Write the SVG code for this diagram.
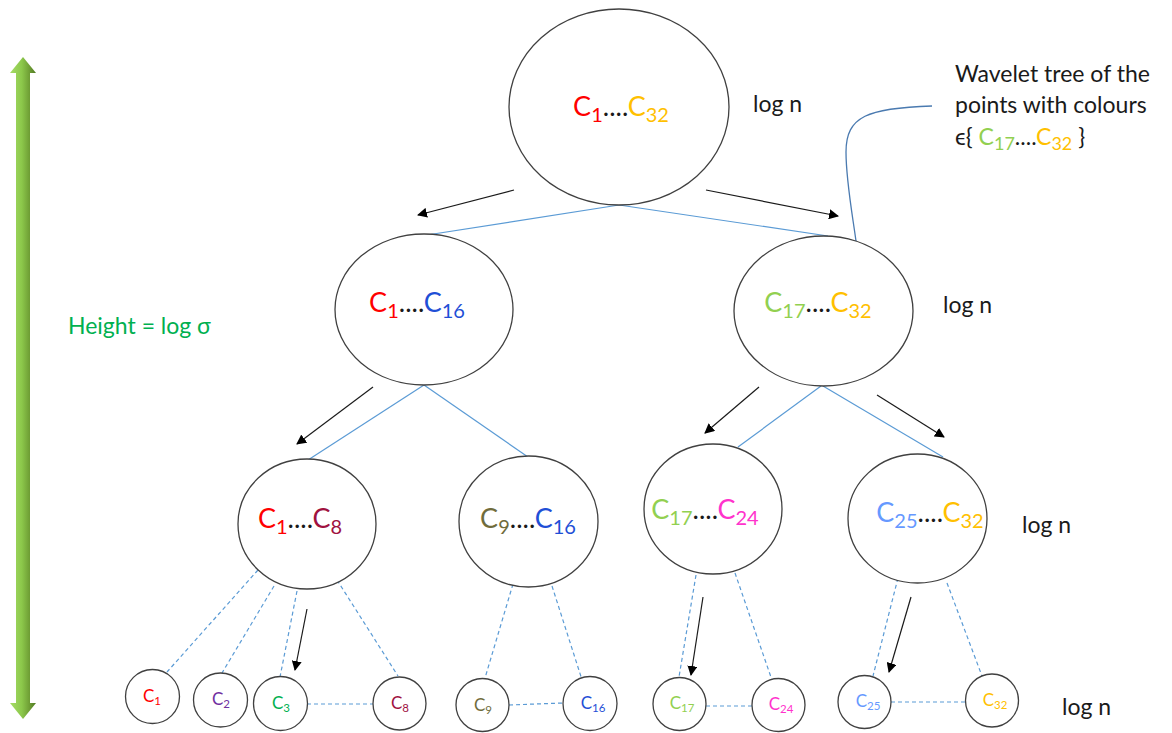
<svg xmlns="http://www.w3.org/2000/svg" width="1172" height="733" viewBox="0 0 1172 733">
  <style>
    .node { fill: #ffffff; stroke: #404040; stroke-width: 1.3; }
    .lbl { font-family: Lato, "Liberation Sans", sans-serif; font-size: 27px; text-anchor: middle; }
    .lbl-s { font-family: Lato, "Liberation Sans", sans-serif; font-size: 17px; text-anchor: middle; }
    .sub { font-size: 20px; }
    .sub-s { font-size: 11.5px; }
    .note { font-family: Lato, "Liberation Sans", sans-serif; font-size: 23px; fill: #1a1a1a; }
    .tree { stroke: #5b9bd5; stroke-width: 1.2; fill: none; }
    .dash { stroke: #5b9bd5; stroke-width: 1.2; stroke-dasharray: 4 3; fill: none; }
    .step { stroke: #1a1a1a; stroke-width: 1.2; fill: none; marker-end: url(#head); }
    .dots { fill: #1a1a1a; }
  </style>
  <defs>
    <marker id="head" viewBox="0 0 10 10" refX="9" refY="5" markerWidth="10" markerHeight="10" markerUnits="userSpaceOnUse" orient="auto">
      <path d="M0,0 L10,5 L0,10 z" fill="#000000"/>
    </marker>
    <linearGradient id="shaft" x1="0" y1="0" x2="1" y2="0">
      <stop offset="0" stop-color="#a6dc66"/>
      <stop offset="0.45" stop-color="#8cc84b"/>
      <stop offset="0.75" stop-color="#6f9e35"/>
      <stop offset="1" stop-color="#4f7a22"/>
    </linearGradient>
  </defs>

  <!-- height indicator -->
  <g id="height-axis">
    <path d="M23,57 L36,73 L30,73 L30,703 L36,703 L23,719 L10,703 L16,703 L16,73 L10,73 z" fill="url(#shaft)"/>
    <text x="68" y="334" font-family="Lato, 'Liberation Sans', sans-serif" font-size="23" fill="#00b050">Height = log σ</text>
  </g>

  <!-- connectors -->
  <g id="connectors">
    <!-- tree edges -->
    <line class="tree" x1="619" y1="205" x2="427" y2="235"/>
    <line class="tree" x1="619" y1="205" x2="828" y2="236"/>
    <line class="tree" x1="424" y1="385" x2="308" y2="460"/>
    <line class="tree" x1="424" y1="385" x2="528" y2="457"/>
    <line class="tree" x1="821" y1="386" x2="738" y2="447"/>
    <line class="tree" x1="823" y1="386" x2="943" y2="457"/>
    <!-- callout leader -->
    <path d="M856,241 C852,212 846,180 846,152 C846,116 868,108 932,106" fill="none" stroke="#4a7ab0" stroke-width="1.3"/>
    <!-- leaf edges -->
    <line class="dash" x1="258" y1="570" x2="167" y2="672"/>
    <line class="dash" x1="274" y1="586" x2="222" y2="673"/>
    <line class="dash" x1="297" y1="591" x2="280" y2="677"/>
    <line class="dash" x1="337" y1="580" x2="398" y2="676"/>
    <line class="dash" x1="307" y1="704" x2="373" y2="704"/>
    <line class="dash" x1="513" y1="584" x2="485" y2="678"/>
    <line class="dash" x1="552" y1="586" x2="584" y2="686"/>
    <line class="dash" x1="509" y1="705" x2="563" y2="703"/>
    <line class="dash" x1="696" y1="575" x2="679" y2="677"/>
    <line class="dash" x1="735" y1="573" x2="773" y2="683"/>
    <line class="dash" x1="706" y1="706" x2="752" y2="706"/>
    <line class="dash" x1="898" y1="578" x2="873" y2="676"/>
    <line class="dash" x1="947" y1="583" x2="982" y2="676"/>
    <line class="dash" x1="891" y1="702" x2="966" y2="702"/>
    <!-- traversal arrows -->
    <line class="step" x1="514" y1="190" x2="418" y2="215"/>
    <line class="step" x1="706" y1="190" x2="838" y2="216"/>
    <line class="step" x1="373" y1="387" x2="297" y2="444"/>
    <line class="step" x1="759" y1="387" x2="705" y2="433"/>
    <line class="step" x1="877" y1="395" x2="944" y2="437"/>
    <line class="step" x1="307" y1="609" x2="295" y2="670"/>
    <line class="step" x1="703" y1="597" x2="691" y2="675"/>
    <line class="step" x1="911" y1="597" x2="889" y2="672"/>
  </g>

  <!-- level 0 -->
  <g id="n-c1-c32">
    <ellipse class="node" cx="619" cy="107" rx="110" ry="98"/>
    <text class="lbl" x="621" y="116"><tspan fill="#ff0000">C</tspan><tspan class="sub" fill="#ff0000" dy="6">1</tspan><tspan class="dots" dy="-6">....</tspan><tspan fill="#ffc000">C</tspan><tspan class="sub" fill="#ffc000" dy="6">32</tspan></text>
  </g>
  <text class="note" x="753" y="112">log n</text>

  <!-- level 1 -->
  <g id="n-c1-c16">
    <ellipse class="node" cx="424" cy="309.5" rx="89" ry="75.5"/>
    <text class="lbl" x="417" y="312"><tspan fill="#ff0000">C</tspan><tspan class="sub" fill="#ff0000" dy="6">1</tspan><tspan class="dots" dy="-6">....</tspan><tspan fill="#1f4fd6">C</tspan><tspan class="sub" fill="#1f4fd6" dy="6">16</tspan></text>
  </g>
  <g id="n-c17-c32">
    <ellipse class="node" cx="823.5" cy="311" rx="89.5" ry="75"/>
    <text class="lbl" x="818" y="312"><tspan fill="#92d050">C</tspan><tspan class="sub" fill="#92d050" dy="6">17</tspan><tspan class="dots" dy="-6">....</tspan><tspan fill="#ffc000">C</tspan><tspan class="sub" fill="#ffc000" dy="6">32</tspan></text>
  </g>
  <text class="note" x="943" y="313">log n</text>

  <!-- level 2 -->
  <g id="n-c1-c8">
    <ellipse class="node" cx="307" cy="524" rx="69" ry="65"/>
    <text class="lbl" x="300" y="528"><tspan fill="#ff0000">C</tspan><tspan class="sub" fill="#ff0000" dy="6">1</tspan><tspan class="dots" dy="-6">....</tspan><tspan fill="#a0123f">C</tspan><tspan class="sub" fill="#a0123f" dy="6">8</tspan></text>
  </g>
  <g id="n-c9-c16">
    <ellipse class="node" cx="528.5" cy="521.5" rx="69.5" ry="65.5"/>
    <text class="lbl" x="528" y="528"><tspan fill="#706c3c">C</tspan><tspan class="sub" fill="#706c3c" dy="6">9</tspan><tspan class="dots" dy="-6">....</tspan><tspan fill="#1f4fd6">C</tspan><tspan class="sub" fill="#1f4fd6" dy="6">16</tspan></text>
  </g>
  <g id="n-c17-c24">
    <ellipse class="node" cx="713" cy="509" rx="69" ry="65"/>
    <text class="lbl" x="705" y="519"><tspan fill="#92d050">C</tspan><tspan class="sub" fill="#92d050" dy="6">17</tspan><tspan class="dots" dy="-6">....</tspan><tspan fill="#ff33cc">C</tspan><tspan class="sub" fill="#ff33cc" dy="6">24</tspan></text>
  </g>
  <g id="n-c25-c32">
    <ellipse class="node" cx="917.5" cy="518.5" rx="69.5" ry="64.5"/>
    <text class="lbl" x="930" y="522"><tspan fill="#6699ff">C</tspan><tspan class="sub" fill="#6699ff" dy="6">25</tspan><tspan class="dots" dy="-6">....</tspan><tspan fill="#ffc000">C</tspan><tspan class="sub" fill="#ffc000" dy="6">32</tspan></text>
  </g>
  <text class="note" x="1022" y="533">log n</text>

  <!-- leaves -->
  <g id="leaf-c1">
    <circle class="node" cx="152.5" cy="696.5" r="27"/>
    <text class="lbl-s" x="152" y="702" fill="#ff0000">C<tspan class="sub-s" dy="3">1</tspan></text>
  </g>
  <g id="leaf-c2">
    <circle class="node" cx="220.5" cy="700" r="27"/>
    <text class="lbl-s" x="221" y="705" fill="#7030a0">C<tspan class="sub-s" dy="3">2</tspan></text>
  </g>
  <g id="leaf-c3">
    <circle class="node" cx="280.5" cy="703.5" r="27"/>
    <text class="lbl-s" x="281" y="709" fill="#00b050">C<tspan class="sub-s" dy="3">3</tspan></text>
  </g>
  <g id="leaf-c8">
    <circle class="node" cx="399.5" cy="703.5" r="26.5"/>
    <text class="lbl-s" x="400" y="709" fill="#a0123f">C<tspan class="sub-s" dy="3">8</tspan></text>
  </g>
  <g id="leaf-c9">
    <circle class="node" cx="482.5" cy="705" r="26.5"/>
    <text class="lbl-s" x="483" y="711" fill="#706c3c">C<tspan class="sub-s" dy="3">9</tspan></text>
  </g>
  <g id="leaf-c16">
    <circle class="node" cx="590" cy="703.5" r="27"/>
    <text class="lbl-s" x="593" y="709" fill="#1f4fd6">C<tspan class="sub-s" dy="3">16</tspan></text>
  </g>
  <g id="leaf-c17">
    <circle class="node" cx="679.5" cy="704" r="26.5"/>
    <text class="lbl-s" x="682" y="709" fill="#92d050">C<tspan class="sub-s" dy="3">17</tspan></text>
  </g>
  <g id="leaf-c24">
    <circle class="node" cx="778.5" cy="705" r="26.5"/>
    <text class="lbl-s" x="781" y="710" fill="#ff33cc">C<tspan class="sub-s" dy="3">24</tspan></text>
  </g>
  <g id="leaf-c25">
    <circle class="node" cx="864.5" cy="702" r="26.5"/>
    <text class="lbl-s" x="868" y="707" fill="#6699ff">C<tspan class="sub-s" dy="3">25</tspan></text>
  </g>
  <g id="leaf-c32">
    <circle class="node" cx="992" cy="700.5" r="26.5"/>
    <text class="lbl-s" x="995" y="706" fill="#ffc000">C<tspan class="sub-s" dy="3">32</tspan></text>
  </g>
  <text class="note" x="1062" y="715">log n</text>

  <!-- callout -->
  <g id="callout">
    <text class="note" x="955" y="82" font-size="23.5">Wavelet tree of the</text>
    <text class="note" x="955" y="113" font-size="23.5">points with colours</text>
    <text class="note" x="955" y="145" font-size="23.5">ϵ{ <tspan fill="#92d050">C</tspan><tspan fill="#92d050" font-size="18" dy="5">17</tspan><tspan dy="-5">....</tspan><tspan fill="#ffc000">C</tspan><tspan fill="#ffc000" font-size="18" dy="5">32</tspan><tspan dy="-5"> }</tspan></text>
  </g>
</svg>
